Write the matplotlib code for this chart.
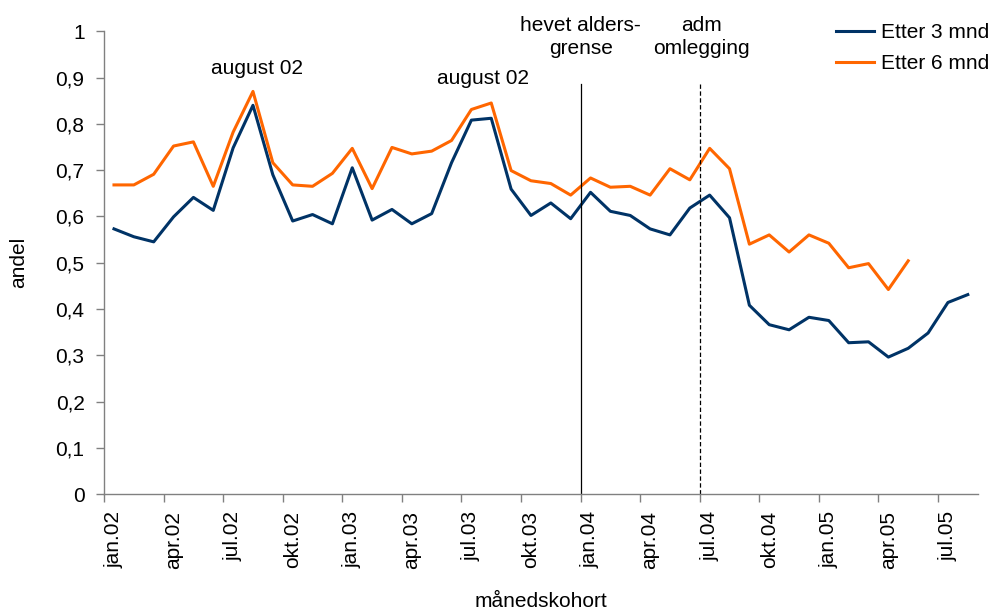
import numpy as np
import matplotlib
matplotlib.use('Agg')
import matplotlib.pyplot as plt

plt.rcParams['font.family'] = ['Liberation Sans', 'DejaVu Sans']

# andel, månedskohorter jan.02 - aug.05
etter_3 = [0.573, 0.556, 0.545, 0.599, 0.641, 0.613, 0.748, 0.840, 0.690, 0.590,
           0.604, 0.584, 0.705, 0.592, 0.615, 0.584, 0.606, 0.716, 0.808, 0.812,
           0.659, 0.602, 0.629, 0.595, 0.652, 0.611, 0.602, 0.573, 0.560, 0.618,
           0.646, 0.597, 0.408, 0.366, 0.355, 0.382, 0.375, 0.327, 0.329, 0.296,
           0.315, 0.348, 0.414, 0.431]
# jan.02 - mai.05
etter_6 = [0.668, 0.668, 0.691, 0.752, 0.761, 0.665, 0.782, 0.870, 0.716, 0.668,
           0.665, 0.693, 0.747, 0.660, 0.749, 0.735, 0.741, 0.764, 0.831, 0.845,
           0.699, 0.677, 0.671, 0.646, 0.683, 0.663, 0.665, 0.646, 0.703, 0.679,
           0.747, 0.703, 0.540, 0.560, 0.523, 0.560, 0.542, 0.489, 0.498, 0.442,
           0.504]

tick_labels = ['jan.02', 'apr.02', 'jul.02', 'okt.02', 'jan.03', 'apr.03', 'jul.03',
               'okt.03', 'jan.04', 'apr.04', 'jul.04', 'okt.04', 'jan.05', 'apr.05',
               'jul.05']
y_ticks = [0, 0.1, 0.2, 0.3, 0.4, 0.5, 0.6, 0.7, 0.8, 0.9, 1]

# hendelser (indeks for måned)
alder_idx = 24   # jan.04
adm_idx = 30     # jul.04

fig = plt.figure(figsize=(9.91, 6.13), dpi=100)
ax = fig.add_axes([0.105, 0.194, 0.8816, 0.755])

x3 = np.arange(len(etter_3))
x6 = np.arange(len(etter_6))
ax.plot(x3, etter_3, color='#003366', lw=2.2, label='Etter 3 mnd')
ax.plot(x6, etter_6, color='#FF6600', lw=2.2, label='Etter 6 mnd')

# vertikale linjer mellom kategorier
ax.plot([alder_idx - 0.5, alder_idx - 0.5], [0, 0.886], color='black', lw=0.9)
ax.plot([adm_idx - 0.5, adm_idx - 0.5], [0, 0.886], color='black', lw=0.9,
        dashes=(3.5, 2))

ax.text(7.2, 0.92, 'august 02', ha='center', va='center', fontsize=15)
ax.text(18.6, 0.899, 'august 02', ha='center', va='center', fontsize=15)
ax.text(alder_idx - 0.5, 0.988, 'hevet alders-\ngrense', ha='center', va='center',
        fontsize=15, linespacing=1.3)
ax.text(adm_idx - 0.4, 0.988, 'adm\nomlegging', ha='center', va='center',
        fontsize=15, linespacing=1.3)

ax.set_xlim(-0.5, len(etter_3) - 0.5)
ax.set_ylim(0, 1)

# tick marks mellom kategorier, etiketter midt på
n_lab = len(tick_labels)
ax.set_xticks(np.arange(n_lab) * 3 - 0.5)
ax.set_xticklabels([])
ax.set_xticks(np.arange(n_lab) * 3, minor=True)
ax.set_xticklabels(tick_labels, minor=True, rotation=90, fontsize=15)
ax.tick_params(axis='x', which='minor', length=0, pad=12)
ax.tick_params(axis='x', which='major', length=6, width=1, color='#808080',
               direction='out')

ax.set_yticks(y_ticks)
ax.set_yticklabels([('%g' % v).replace('.', ',') for v in y_ticks], fontsize=15)
ax.tick_params(axis='y', length=6, width=1, color='#808080', pad=8)

for s in ['top', 'right']:
    ax.spines[s].set_visible(False)
for s in ['left', 'bottom']:
    ax.spines[s].set_color('#808080')
    ax.spines[s].set_linewidth(1)

ax.set_ylabel('andel', fontsize=15, labelpad=20)
ax.set_xlabel('månedskohort', fontsize=15, labelpad=17)

ax.legend(loc='upper right', bbox_to_anchor=(1.007, 0.9755), bbox_transform=fig.transFigure,
          frameon=False, fontsize=15, handlelength=1.85, handletextpad=0.35,
          labelspacing=0.55, borderaxespad=0)

fig.savefig('out.png', dpi=100)
